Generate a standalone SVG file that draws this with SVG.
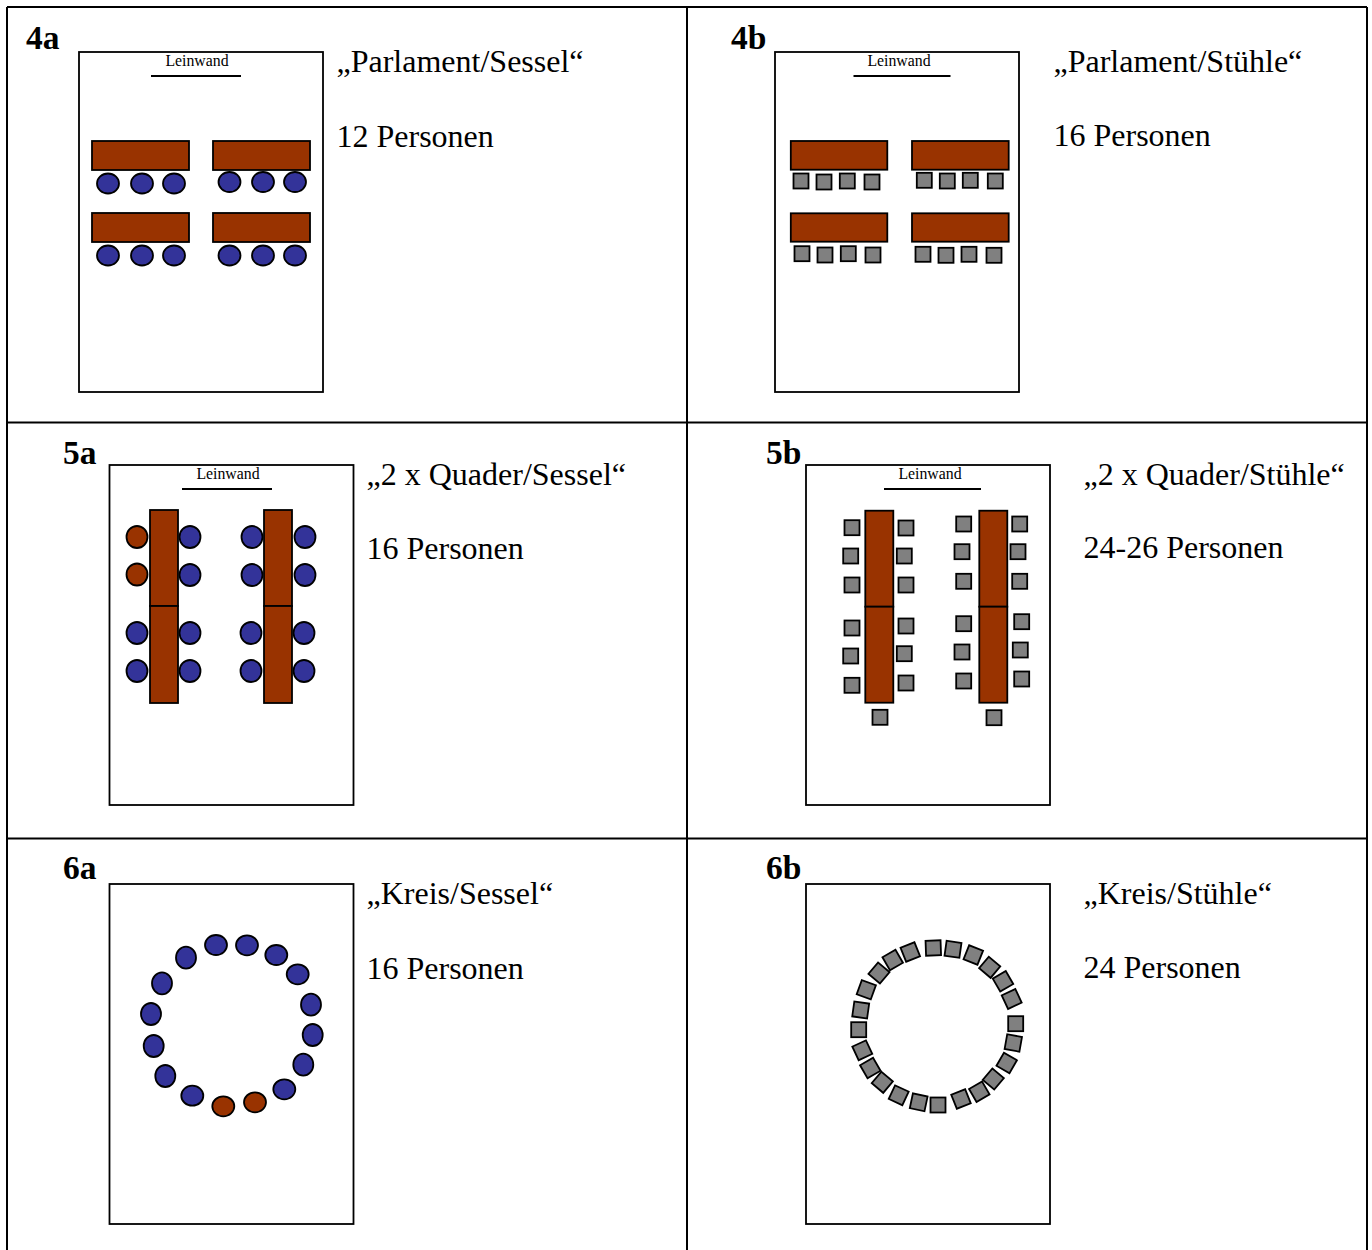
<svg xmlns="http://www.w3.org/2000/svg" width="1372" height="1250" viewBox="0 0 1372 1250">
<style>
text{font-family:"Liberation Serif","Times New Roman",serif;fill:#000}
.id{font-size:33.500px;font-weight:bold}
.t{font-size:32px}
.s{font-size:15.800px;text-anchor:middle}
.g{stroke:#000;stroke-width:2;fill:none}
.room{fill:#fff;stroke:#000;stroke-width:1.800}
.scr{stroke:#000;stroke-width:1.800}
.tb{fill:#993300;stroke:#000;stroke-width:1.800}
.b{fill:#333399;stroke:#000;stroke-width:1.800}
.r{fill:#993300;stroke:#000;stroke-width:1.800}
.c{fill:#808080;stroke:#000;stroke-width:1.800}
</style>
<defs><rect id="q" class="c" x="-7.500" y="-7.500" width="15" height="15"/></defs>
<rect width="1372" height="1250" fill="#fff"/>
<g id="grid">
<path class="g" d="M7 7H1367M7 422.500H1367M7 838.500H1367M7 7V1250M687 7V1250M1367 7V1250"/>
</g>
<g id="panel-4a">
<text class="id" x="26" y="49">4a</text>
<rect class="room" x="79" y="52" width="244" height="340"/>
<text class="s" x="197" y="66">Leinwand</text>
<path class="scr" d="M151 76H241"/>
<rect class="tb" x="92" y="141" width="97" height="29"/><rect class="tb" x="213" y="141" width="97" height="29"/>
<rect class="tb" x="92" y="213" width="97" height="29"/><rect class="tb" x="213" y="213" width="97" height="29"/>
<ellipse class="b" cx="108" cy="183.500" rx="11" ry="10"/><ellipse class="b" cx="142" cy="183.500" rx="11" ry="10"/><ellipse class="b" cx="174" cy="183.500" rx="11" ry="10"/>
<ellipse class="b" cx="229.500" cy="182" rx="11" ry="10"/><ellipse class="b" cx="263" cy="182" rx="11" ry="10"/><ellipse class="b" cx="295" cy="182" rx="11" ry="10"/>
<ellipse class="b" cx="108" cy="255.500" rx="11" ry="10"/><ellipse class="b" cx="142" cy="255.500" rx="11" ry="10"/><ellipse class="b" cx="174" cy="255.500" rx="11" ry="10"/>
<ellipse class="b" cx="229.500" cy="255.500" rx="11" ry="10"/><ellipse class="b" cx="263" cy="255.500" rx="11" ry="10"/><ellipse class="b" cx="295" cy="255.500" rx="11" ry="10"/>
<text class="t" x="336.500" y="72">„Parlament/Sessel“</text>
<text class="t" x="336.500" y="147">12 Personen</text>
</g>
<g id="panel-4b">
<text class="id" x="731" y="49">4b</text>
<rect class="room" x="775" y="52" width="244" height="340"/>
<text class="s" x="899" y="66">Leinwand</text>
<path class="scr" d="M853.500 76H950.500"/>
<rect class="tb" x="790.800" y="141" width="96.500" height="28.700"/><rect class="tb" x="912" y="141" width="96.700" height="28.700"/>
<rect class="tb" x="790.800" y="213.300" width="96.500" height="28.400"/><rect class="tb" x="912" y="213.300" width="96.700" height="28.400"/>
<use href="#q" x="801" y="181"/><use href="#q" x="824" y="182"/><use href="#q" x="847.300" y="181"/><use href="#q" x="872" y="182"/>
<use href="#q" x="924.300" y="180.300"/><use href="#q" x="947.300" y="181"/><use href="#q" x="970.300" y="180.300"/><use href="#q" x="995.300" y="181"/>
<use href="#q" x="802" y="253.700"/><use href="#q" x="825" y="255"/><use href="#q" x="848.300" y="253.700"/><use href="#q" x="873" y="255"/>
<use href="#q" x="923" y="254.300"/><use href="#q" x="946" y="255.300"/><use href="#q" x="969" y="254.300"/><use href="#q" x="994" y="255.300"/>
<text class="t" x="1053.500" y="72">„Parlament/Stühle“</text>
<text class="t" x="1053.500" y="146">16 Personen</text>
</g>
<g id="panel-5a">
<text class="id" x="63" y="464">5a</text>
<rect class="room" x="109.500" y="465" width="244" height="340"/>
<text class="s" x="228" y="479">Leinwand</text>
<path class="scr" d="M182 489H272"/>
<rect class="tb" x="150" y="510" width="28" height="96"/><rect class="tb" x="150" y="606" width="28" height="97"/>
<rect class="tb" x="264" y="510" width="28" height="96"/><rect class="tb" x="264" y="606" width="28" height="97"/>
<ellipse class="r" cx="137" cy="537" rx="10.500" ry="11"/><ellipse class="r" cx="137" cy="574.500" rx="10.500" ry="11"/>
<ellipse class="b" cx="137" cy="633" rx="10.500" ry="11"/><ellipse class="b" cx="137" cy="671" rx="10.500" ry="11"/>
<ellipse class="b" cx="190" cy="537" rx="10.500" ry="11"/><ellipse class="b" cx="190" cy="575" rx="10.500" ry="11"/><ellipse class="b" cx="190" cy="633" rx="10.500" ry="11"/><ellipse class="b" cx="190" cy="671" rx="10.500" ry="11"/>
<ellipse class="b" cx="252" cy="537" rx="10.500" ry="11"/><ellipse class="b" cx="252" cy="575" rx="10.500" ry="11"/><ellipse class="b" cx="251" cy="633" rx="10.500" ry="11"/><ellipse class="b" cx="251" cy="671" rx="10.500" ry="11"/>
<ellipse class="b" cx="305" cy="537" rx="10.500" ry="11"/><ellipse class="b" cx="305" cy="575" rx="10.500" ry="11"/><ellipse class="b" cx="304" cy="633" rx="10.500" ry="11"/><ellipse class="b" cx="304" cy="671" rx="10.500" ry="11"/>
<text class="t" x="366.500" y="485">„2 x Quader/Sessel“</text>
<text class="t" x="366.500" y="559">16 Personen</text>
</g>
<g id="panel-5b">
<text class="id" x="766" y="464">5b</text>
<rect class="room" x="806" y="465" width="244" height="340"/>
<text class="s" x="930" y="479">Leinwand</text>
<path class="scr" d="M884 489H981"/>
<rect class="tb" x="865.300" y="510.700" width="28" height="96"/><rect class="tb" x="865.300" y="606.700" width="28" height="96"/>
<rect class="tb" x="979.300" y="510.700" width="28" height="96"/><rect class="tb" x="979.300" y="606.700" width="28" height="96"/>
<use href="#q" x="852" y="527.700"/><use href="#q" x="850.700" y="556"/><use href="#q" x="852" y="585"/><use href="#q" x="852" y="628"/><use href="#q" x="850.700" y="656"/><use href="#q" x="852" y="685.300"/>
<use href="#q" x="906" y="528"/><use href="#q" x="904.300" y="556"/><use href="#q" x="906" y="585"/><use href="#q" x="906" y="626"/><use href="#q" x="904.300" y="653.700"/><use href="#q" x="906" y="683"/>
<use href="#q" x="880" y="717.300"/>
<use href="#q" x="963.700" y="524"/><use href="#q" x="962" y="551.700"/><use href="#q" x="963.700" y="581.300"/><use href="#q" x="963.700" y="623.700"/><use href="#q" x="962" y="652"/><use href="#q" x="963.700" y="681"/>
<use href="#q" x="1019.700" y="524"/><use href="#q" x="1018" y="551.700"/><use href="#q" x="1019.700" y="581.300"/><use href="#q" x="1021.700" y="621.700"/><use href="#q" x="1020.300" y="650"/><use href="#q" x="1021.700" y="679"/>
<use href="#q" x="994" y="717.700"/>
<text class="t" x="1083.500" y="485">„2 x Quader/Stühle“</text>
<text class="t" x="1083.500" y="558">24-26 Personen</text>
</g>
<g id="panel-6a">
<text class="id" x="63" y="879">6a</text>
<rect class="room" x="109.500" y="884" width="244" height="340"/>
<ellipse class="b" cx="216" cy="945" rx="11" ry="10"/><ellipse class="b" cx="247" cy="945.300" rx="11" ry="10"/><ellipse class="b" cx="276.300" cy="955" rx="11" ry="10"/><ellipse class="b" cx="297.700" cy="974.300" rx="11" ry="10"/>
<ellipse class="b" cx="311" cy="1004.700" rx="10" ry="11"/><ellipse class="b" cx="312.700" cy="1035" rx="10" ry="11"/><ellipse class="b" cx="303.300" cy="1064.700" rx="10" ry="11"/><ellipse class="b" cx="284.300" cy="1089.300" rx="11" ry="10"/>
<ellipse class="r" cx="255" cy="1102.300" rx="11" ry="10"/><ellipse class="r" cx="223.300" cy="1106.300" rx="11" ry="10"/>
<ellipse class="b" cx="192.300" cy="1095.700" rx="11" ry="10"/><ellipse class="b" cx="165.300" cy="1076" rx="10" ry="11"/><ellipse class="b" cx="153.700" cy="1046" rx="10" ry="11"/><ellipse class="b" cx="151" cy="1014" rx="10" ry="11"/><ellipse class="b" cx="162" cy="983.300" rx="10" ry="11"/><ellipse class="b" cx="186" cy="957.700" rx="10" ry="11"/>
<text class="t" x="366.500" y="904">„Kreis/Sessel“</text>
<text class="t" x="366.500" y="979">16 Personen</text>
</g>
<g id="panel-6b">
<text class="id" x="766" y="879">6b</text>
<rect class="room" x="806" y="884" width="244" height="340"/>
<use href="#q" transform="translate(933.300 948) rotate(-2)"/>
<use href="#q" transform="translate(953 949.300) rotate(8)"/>
<use href="#q" transform="translate(973.300 955) rotate(22)"/>
<use href="#q" transform="translate(989.700 967.300) rotate(40)"/>
<use href="#q" transform="translate(1003 981.300) rotate(-30)"/>
<use href="#q" transform="translate(1011.700 999) rotate(-25)"/>
<use href="#q" transform="translate(1015.700 1023.700)"/>
<use href="#q" transform="translate(1013.300 1043) rotate(10)"/>
<use href="#q" transform="translate(1006.700 1063) rotate(30)"/>
<use href="#q" transform="translate(993.300 1079) rotate(40)"/>
<use href="#q" transform="translate(979.300 1091.700) rotate(-30)"/>
<use href="#q" transform="translate(961 1099) rotate(-22)"/>
<use href="#q" transform="translate(938 1105)"/>
<use href="#q" transform="translate(918.700 1102.300) rotate(12)"/>
<use href="#q" transform="translate(898.700 1095.300) rotate(25)"/>
<use href="#q" transform="translate(882.300 1082.300) rotate(40)"/>
<use href="#q" transform="translate(870.300 1068) rotate(-30)"/>
<use href="#q" transform="translate(862.300 1050.300) rotate(-25)"/>
<use href="#q" transform="translate(858.700 1029.700)"/>
<use href="#q" transform="translate(860.700 1010) rotate(8)"/>
<use href="#q" transform="translate(866.300 989.700) rotate(20)"/>
<use href="#q" transform="translate(879 973) rotate(40)"/>
<use href="#q" transform="translate(892.700 960) rotate(-30)"/>
<use href="#q" transform="translate(910.300 952) rotate(-22)"/>
<text class="t" x="1083.500" y="904">„Kreis/Stühle“</text>
<text class="t" x="1083.500" y="978">24 Personen</text>
</g>
</svg>
